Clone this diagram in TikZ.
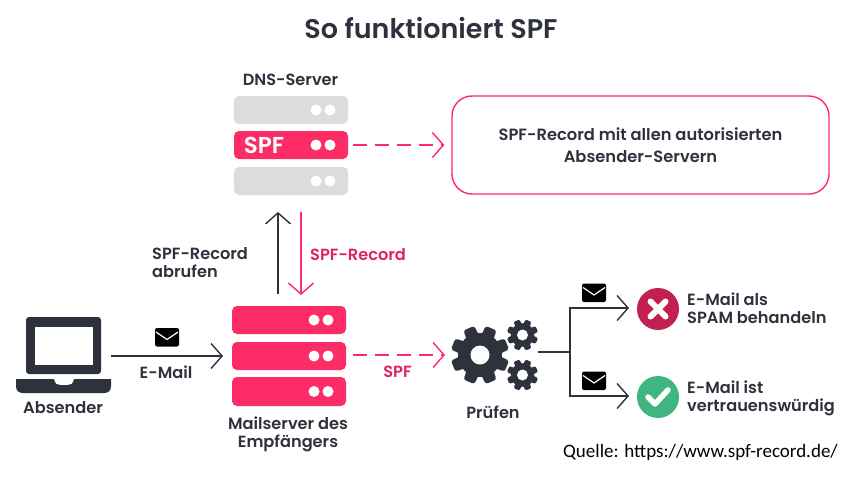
\documentclass[tikz,border=0pt]{standalone}
\usepackage{fontspec}
\setmainfont{Poppins}[BoldFont={Poppins SemiBold}]
\newfontfamily\quellefont{Carlito}
\usetikzlibrary{arrows.meta}
\definecolor{ink}{HTML}{2E323C}
\definecolor{hot}{HTML}{FB2C66}
\definecolor{hottext}{HTML}{E0235A}
\definecolor{greyrack}{HTML}{DCDCDC}
\definecolor{crim}{HTML}{C22050}
\definecolor{grn}{HTML}{3FB67F}
\newcommand{\rackunit}[5]{% x y w h colour
  \fill[#5,rounded corners=5pt] (#1,#2) rectangle ++(#3,#4);
  \fill[white] (#1+#3-32,#2+#4/2) circle (5.5) (#1+#3-18,#2+#4/2) circle (5.5);
}
\newcommand{\gearicon}[4]{% x y R hole
  \begin{scope}[shift={(#1,#2)}]
    \fill[ink] (0,0) circle (#3*0.76);
    \foreach \a in {0,45,...,315}{
      \fill[ink,rounded corners=#3*0.08pt,rotate=\a+22.5] (-#3*0.27,0) -- (-#3*0.2,#3) -- (#3*0.2,#3) -- (#3*0.27,0) -- cycle;
    }
    \fill[white] (0,0) circle (#4);
  \end{scope}
}
\newcommand{\envelope}[2]{% x y (top-left), 24x18
  \fill[black,rounded corners=2pt] (#1,#2) rectangle ++(24,18.5);
  \draw[white,line width=1.2pt] (#1+1,#2+4) -- (#1+12,#2+11.5) -- (#1+23,#2+4);
}
\tikzset{
  lbl/.style={font=\bfseries\fontsize{16.2}{18}\selectfont,text=ink,align=center,inner sep=0pt},
  lbll/.style={lbl,align=left,anchor=west},
  conn/.style={line width=1.4pt,draw=ink,-{Straight Barb[length=11pt,width=25pt,line width=1.4pt]}},
  plain/.style={line width=1.4pt,draw=ink},
  pinkconn/.style={line width=1.4pt,draw=hot,-{Straight Barb[length=11pt,width=25pt,line width=1.4pt]}},
  dashconn/.style={pinkconn,dash pattern=on 14pt off 8pt},
}
\begin{document}
\begin{tikzpicture}[x=1pt,y=-1pt]
\useasboundingbox (0,0) rectangle (866,479);
\fill[white] (0,0) rectangle (866,479);
\node[font=\bfseries\fontsize{27}{32}\selectfont,text=ink,inner sep=0pt] (title) at (431,28) {So funktioniert SPF};
\node[lbl] (dnslabel) at (290.5,79.5) {DNS-Server};
\rackunit{234}{96}{114}{28}{greyrack}
\rackunit{234}{131}{114}{28}{hot}
\rackunit{234}{167}{114}{28}{greyrack}
\node[font=\bfseries\fontsize{23}{26}\selectfont,text=white,inner sep=0pt] (spftag) at (264,145) {SPF};
\coordinate (dnsright) at (353,145);
\node[draw=hot,line width=1.4pt,rounded corners=20pt,minimum width=377pt,minimum height=98pt,inner sep=0pt] (record) at (640.5,145)
  {\parbox{340pt}{\centering\bfseries\fontsize{16.3}{22}\selectfont\color{ink}SPF-Record mit allen autorisierten\\Absender-Servern}};
\draw[dashconn] (dnsright) -- ([xshift=-7pt]record.west);
\rackunit{232}{306}{114}{28}{hot}
\rackunit{232}{342}{114}{28}{hot}
\rackunit{232}{377}{114}{29}{hot}
\node[lbl] (maillabel) at (288,434) {Mailserver des\\[0pt]Empfängers};
\coordinate (upfrom) at (278,294);
\coordinate (upto) at (278,212);
\coordinate (downfrom) at (301,212);
\coordinate (downto) at (301,295);
\draw[conn] (upfrom) -- (upto);
\draw[pinkconn] (downfrom) -- (downto);
\node[lbll] (abruf) at (152,263) {SPF-Record\\abrufen};
\node[lbll,text=hottext] (spfrec) at (310,254.5) {SPF-Record};
% laptop
\fill[ink,rounded corners=3pt] (26,317) -- (101,317) -- (101,374) -- (26,374) -- cycle;
\fill[white] (35,327) rectangle (92.7,365);
\fill[ink] (16,379) -- (54,379) .. controls (55,384) and (57,385) .. (60,385) -- (68,385) .. controls (71,385) and (73,384) .. (74,379) -- (111,379) -- (111,386) .. controls (111,391) and (108,393) .. (104,393) -- (23,393) .. controls (19,393) and (16,391) .. (16,386) -- cycle;
\node[lbl] (absender) at (63,408) {Absender};
\coordinate (laptopout) at (111,356);
\coordinate (mailin) at (223,356);
\draw[conn] (laptopout) -- (mailin);
\envelope{155}{328}
\node[lbl] (email) at (166,372) {E-Mail};
\coordinate (mailout) at (353,355);
\coordinate (gearin) at (445,355);
\draw[dashconn] (mailout) -- (gearin);
\node[lbl,text=hottext] (spfmid) at (397.5,372) {SPF};
\gearicon{480}{355}{29}{9.5}
\gearicon{522.5}{335}{15.5}{5.5}
\gearicon{522.5}{375}{15.5}{5.5}
\node[lbl] (pruefen) at (493,412) {Prüfen};
\coordinate (gearout) at (538,352);
\coordinate (fork) at (570,352);
\coordinate (arrA) at (629,308);
\coordinate (arrB) at (629,396);
\draw[plain] (gearout) -- (fork);
\draw[conn] (fork) |- (arrA);
\draw[conn] (fork) |- (arrB);
\envelope{582}{283.5}
\envelope{582}{371.5}
\node[circle,fill=crim,minimum size=42pt,inner sep=0pt] (spam) at (658,309) {};
\draw[white,line width=6pt,line cap=round] (650.5,301.5) -- (665.5,316.5) (650.5,316.5) -- (665.5,301.5);
\node[circle,fill=grn,minimum size=42pt,inner sep=0pt] (ok) at (658,397) {};
\draw[white,line width=5.5pt,line cap=round,line join=round] (648,397) -- (655,404) -- (668,390);
\node[lbll] (spamtxt) at (687,308) {E-Mail als\\SPAM behandeln};
\node[lbll] (oktxt) at (687,398) {E-Mail ist\\vertrauenswürdig};
\node[font=\quellefont\fontsize{19}{22}\selectfont,text=black,anchor=west,inner sep=0pt] (quelle) at (563,452) {Quelle: https://www.spf-record.de/};
\end{tikzpicture}
\end{document}
